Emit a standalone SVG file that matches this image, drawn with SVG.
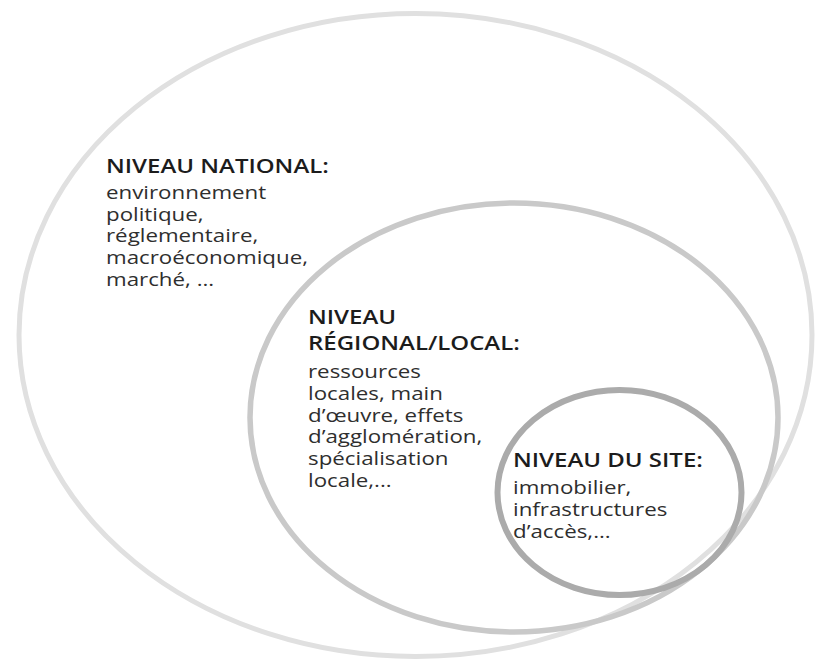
<svg xmlns="http://www.w3.org/2000/svg" width="816" height="665" viewBox="0 0 816 665">
<style>
.ring{fill:none}
.h{font-family:"Open Sans","Liberation Sans",sans-serif;font-weight:600;font-size:19.5px;fill:#1c1c1c}
.b{font-family:"Open Sans","Liberation Sans",sans-serif;font-weight:400;font-size:18px;fill:#2e2e2e}
</style>
<rect width="816" height="665" fill="#ffffff"/>
<g id="national">
<ellipse class="ring" cx="415.5" cy="335" rx="396.5" ry="321.5" stroke="#e0e0e0" stroke-width="5"/>
<text class="h" transform="translate(106,173) scale(1.23,1)">NIVEAU NATIONAL:</text>
<text class="b" transform="translate(106,199) scale(1.24,1)"><tspan x="0" y="0">environnement</tspan><tspan x="0" y="21.7">politique,</tspan><tspan x="0" y="43.4">réglementaire,</tspan><tspan x="0" y="65.1">macroéconomique,</tspan><tspan x="0" y="86.8">marché, ...</tspan></text>
</g>
<g id="regional">
<ellipse class="ring" cx="514" cy="417.5" rx="264" ry="214.5" stroke="#c9c9c9" stroke-width="5.5"/>
<text class="h" transform="translate(308,324) scale(1.23,1)"><tspan x="0" y="0">NIVEAU</tspan><tspan x="0" y="26.5">RÉGIONAL/LOCAL:</tspan></text>
<text class="b" transform="translate(308,378) scale(1.24,1)"><tspan x="0" y="0">ressources</tspan><tspan x="0" y="21.8">locales, main</tspan><tspan x="0" y="43.6">d’œuvre, effets</tspan><tspan x="0" y="65.4">d’agglomération,</tspan><tspan x="0" y="87.2">spécialisation</tspan><tspan x="0" y="109">locale,...</tspan></text>
</g>
<g id="site">
<ellipse class="ring" cx="619.5" cy="492.5" rx="122" ry="102.5" stroke="#ababab" stroke-width="6"/>
<text class="h" transform="translate(513,467) scale(1.23,1)">NIVEAU DU SITE:</text>
<text class="b" transform="translate(513,494) scale(1.24,1)"><tspan x="0" y="0">immobilier,</tspan><tspan x="0" y="22">infrastructures</tspan><tspan x="0" y="44">d’accès,...</tspan></text>
</g>
<g id="connectors"/>
</svg>
